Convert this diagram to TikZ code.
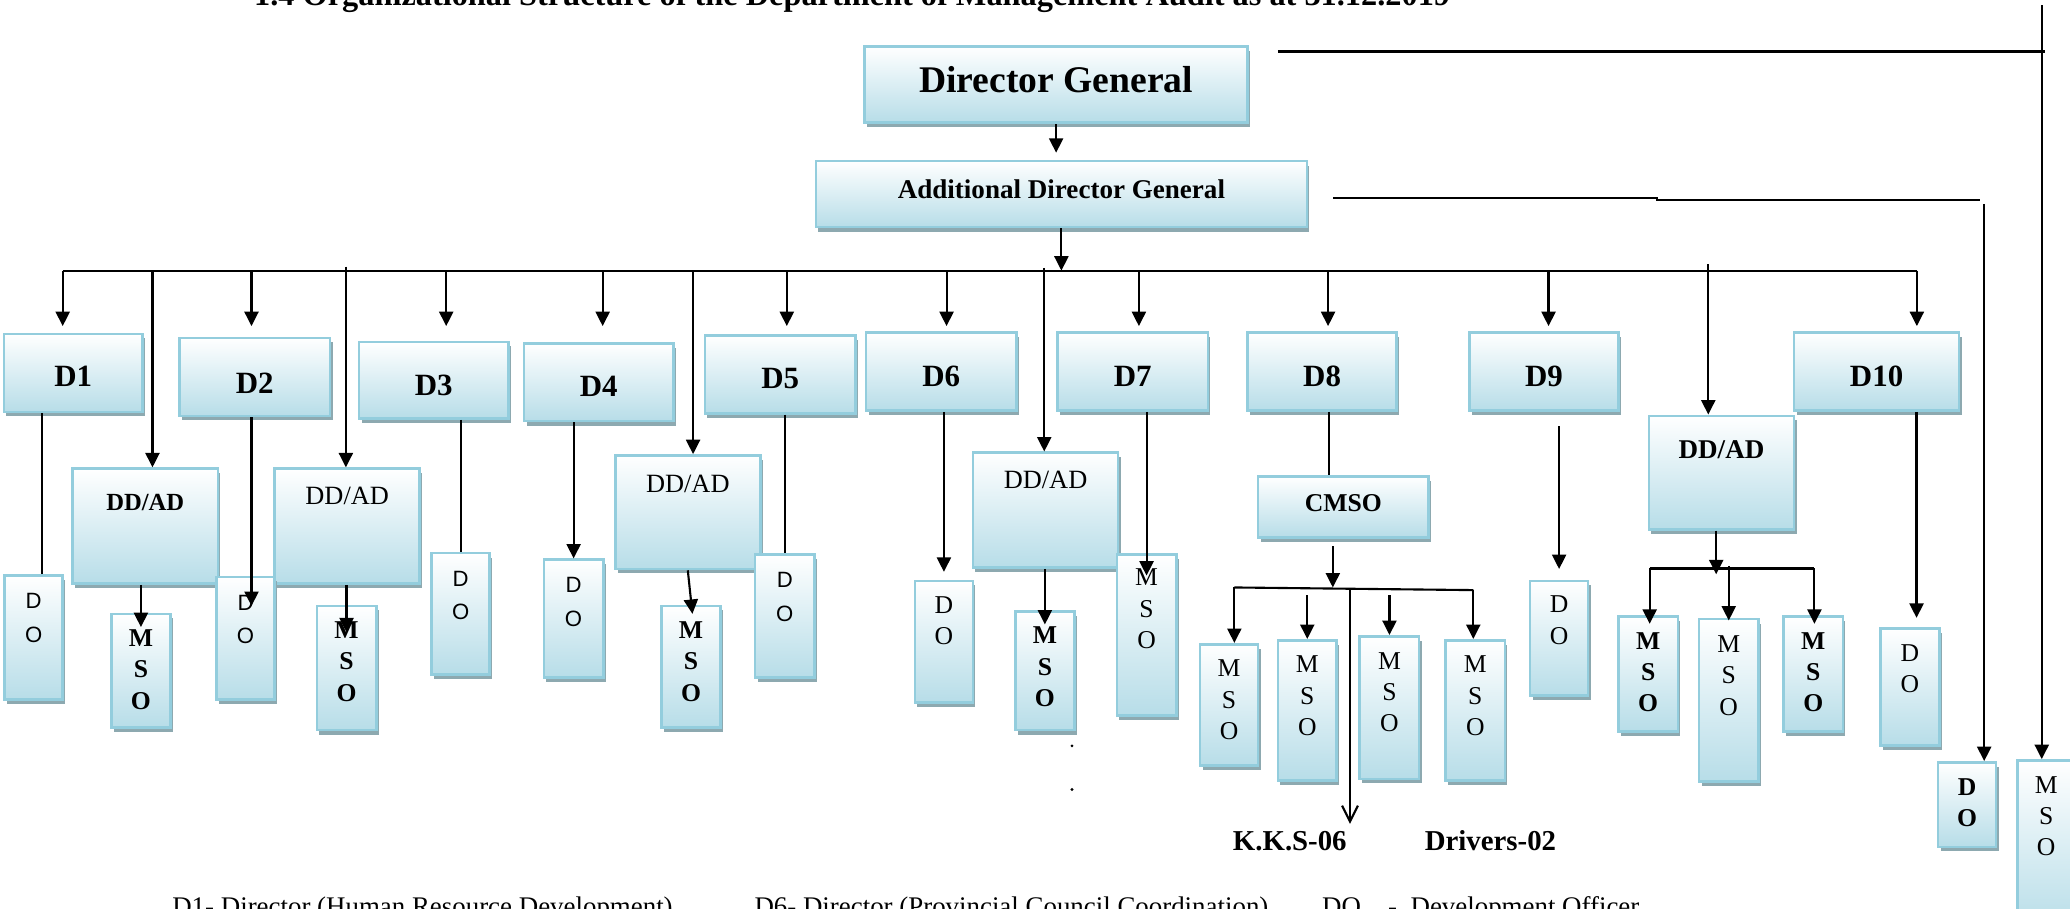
\documentclass[tikz,border=0pt]{standalone}
\usepackage{fontspec}
\setmainfont{Liberation Serif}
\setsansfont{Liberation Sans}
\usetikzlibrary{arrows.meta, calc, fit, shadows}

\definecolor{boxline}{HTML}{93CDDD}
\definecolor{boxfill}{HTML}{B7DDE8}
\definecolor{boxshade}{HTML}{8DA9B0}

\tikzset{
  box/.style={draw=boxline, line width=0.75pt, top color=white, bottom color=boxfill,
    inner sep=0pt, drop shadow={shadow xshift=0.025cm, shadow yshift=-0.045cm, fill=boxshade, opacity=1}},
  stack/.style={align=center, inner sep=0pt, anchor=north},
  ln/.style={line width=0.6pt},
  arr/.style={ln, -{Triangle[length=4.1pt, width=4pt]}},
  sb/.style={font=\fontsize{7.3}{8.9}\selectfont\bfseries},
  sr/.style={font=\fontsize{7.3}{8.9}\selectfont},
  ss/.style={font=\fontsize{6.3}{9.6}\selectfont\sffamily},
  ddb/.style={font=\fontsize{7}{8}\selectfont\bfseries},
  ddbb/.style={font=\fontsize{7.7}{8}\selectfont\bfseries},
  ddr/.style={font=\fontsize{7.5}{8}\selectfont},
  keytext/.style={anchor=base west, inner sep=0pt, font=\fontsize{7.65}{9}\selectfont},
}

\begin{document}
\begin{tikzpicture}[x=0.0132cm, y=-0.0132cm]
\useasboundingbox (0,0) rectangle (1568,688);

% Title (cut by the top edge)
\node[anchor=base west, inner sep=0pt, font=\fontsize{9.2}{11}\selectfont\bfseries] (title) at (192,3.8)
  {1.4 Organizational Structure of the Department of Management Audit as at 31.12.2019};

% Boxes with the text in the middle
\foreach \n/\xa/\ya/\xb/\yb/\t/\s/\o in {
  dg/655/35/945/93/Director General/10.7/-4,
  adg/618/122/990/172/Additional Director General/7.7/-4,
  d1/3/253/108/312/D1/8.8/2.5,
  d2/136/256/250/315/D2/8.8/4.5,
  d3/272/259/385/317/D3/8.8/4,
  d4/397/260/510/319/D4/8.8/3.5,
  d5/534/254/648/313/D5/8.8/3.5,
  d6/656/252/770/311/D6/8.8/3.5,
  d7/801/252/915/311/D7/8.8/3.5,
  d8/945/252/1058/311/D8/8.8/3.5,
  d9/1113/252/1226/311/D9/8.8/3.5,
  d10/1359/252/1484/311/D10/8.8/3.5,
  cmso/953/361/1082/407/CMSO/7.3/-3}
{
  \node[box, fit={(\xa,\ya) (\xb,\yb)}] (\n) {};
  \node[inner sep=0pt, font=\fontsize{\s}{\s}\selectfont\bfseries] (\n-t) at ($(\n.center)+(0,\o)$) {\t};
}

% Boxes with the text at the top
\foreach \n/\xa/\ya/\xb/\yb/\t/\s/\o in {
  dd1/55/355/165/442/{DD/AD}/ddb/20,
  dd2/208/355/318/442/{DD/AD}/ddr/14.5,
  dd3/466/345/576/431/{DD/AD}/ddr/15,
  dd4/737/343/847/430/{DD/AD}/ddr/14,
  dd5/1249/315/1359/401/{DD/AD}/ddbb/19,
  do1/3.5/436/47.5/530/{D\\O}/ss/14,
  mso1/84.5/465/129/551/{M\\S\\O}/sb/12.5,
  do2/164/437/208/530/{D\\O}/ss/14,
  mso2/240/459/285/553/{M\\S\\O}/sb/12.5,
  do3/327/419/371/511/{D\\O}/ss/14,
  do4/412/424/457/513/{D\\O}/ss/14,
  mso3/501/459/546/551/{M\\S\\O}/sb/12.5,
  do5/572/420/617/513/{D\\O}/ss/14,
  do6/693/440/737/532/{D\\O}/sr/12.5,
  mso4/769/463/814/553/{M\\S\\O}/sb/12.5,
  mso7/846/420/891/542/{M\\S\\O}/sr/11.5,
  c1/909/488/953/580/{M\\S\\O}/sr/12.5,
  c2/968/485/1012.5/591/{M\\S\\O}/sr/12.5,
  c3/1030/482/1075/590/{M\\S\\O}/sr/12.5,
  c4/1095/485/1140/591/{M\\S\\O}/sr/12.5,
  do9/1159/440/1203/527/{D\\O}/sr/12,
  e1/1226/467/1271/554/{M\\S\\O}/sb/12.5,
  e2/1287/469/1332/592/{M\\S\\O}/sr/13,
  e3/1351/467/1396/554/{M\\S\\O}/sb/12.5,
  do10/1424.5/476/1469/564.5/{D\\O}/sr/12.5,
  dof/1468/577.5/1512/641.5/{D\\O}/sb/12.5,
  msof/1528/576/1572/705/{M\\S\\O}/sr/12.5}
{
  \node[box, fit={(\xa,\ya) (\xb,\yb)}] (\n) {};
  \node[stack, \s] (\n-t) at ($(\n.north)+(0,\o)$) {\t};
}

% DG -> ADG -> bus
\coordinate (busL) at (47.5,205);
\coordinate (busR) at (1452,205);
\draw[arr, shorten >=2pt] (dg.south) -- (dg.south |- adg.north);
\draw[arr] (adg.south) -- (adg.south |- busL);
\draw[ln] (busL) -- (busR);

% drops to the directors
\coordinate (dtip) at (0,247);
\foreach \n/\x in {d1/47.5, d2/190.5, d3/338, d4/456.5, d5/596, d6/717, d7/862.7, d8/1006, d9/1173, d10/1452}{
  \coordinate (b-\n) at (\x,205);
  \draw[arr] (b-\n) -- (b-\n |- dtip);
}

% drops to the deputy directors
\foreach \n/\x/\y in {dd1/115.5/205, dd2/262/202, dd3/525/205, dd4/791/203, dd5/1294/200}{
  \coordinate (b-\n) at (\x,\y);
  \draw[arr] (b-\n) -- (b-\n |- \n.north);
}

% directors to officers
\coordinate (l1) at ($(do1.north)+(6,0)$);
\draw[ln] (l1 |- d1.south) -- (l1);
\coordinate (l2) at ($(do2.north)+(4.5,23)$);
\draw[arr] (l2 |- d2.south) -- (l2);
\draw[ln] (do3.north |- d3.south) -- (do3.north);
\draw[arr] (do4.north |- d4.south) -- (do4.north);
\draw[ln] (do5.north |- d5.south) -- (do5.north);
\draw[arr, shorten >=2.2pt] (do6.north |- d6.south) -- (do6.north);
\draw[arr] (mso7.north |- d7.south) -- ($(mso7.north)+(0,17)$);
\draw[arr] (mso1.north |- dd1.south) -- ($(mso1.north)+(0,11)$);
\draw[arr] (mso2.north |- dd2.south) -- ($(mso2.north)+(0,21)$);
\draw[arr] (dd3.south) -- ($(mso3.north)+(1,7)$);
\draw[arr] (mso4.north |- dd4.south) -- ($(mso4.north)+(0,11)$);

% D8 and CMSO
\coordinate (l8) at ($(cmso.north)+(-10.5,0)$);
\draw[ln] (l8 |- d8.south) -- (l8);
\coordinate (cbusL) at (935,447);
\coordinate (cbusR) at (1116,447);
\coordinate (ctip) at (1009.6,445);
\draw[arr, shorten <=2.2pt] (ctip |- cmso.south) -- (ctip);
\draw[ln] ($(cbusL)+(0,-2)$) -- (cbusR);
\draw[arr] ($(cbusL)+(0,-2)$) -- (cbusL |- c1.north);
\draw[arr, shorten <=1.5pt] (c2.north |- cbusL) -- (c2.north);
\draw[arr, shorten <=1.5pt] (c3.north |- cbusL) -- (c3.north);
\draw[arr] (cbusR) -- (cbusR |- c4.north);
\coordinate (kks) at (1022.6,624);
\draw[ln, -{Straight Barb[length=4.5pt, width=4.5pt]}] ($(kks |- cbusL)+(0,-1)$) -- (kks);
\node[font=\fontsize{8.2}{10}\selectfont\bfseries] (kkst) at (977,637) {K.K.S-06};
\node[font=\fontsize{8.2}{10}\selectfont\bfseries] (drv) at (1129,637) {Drivers-02};

% D9
\draw[arr, shorten <=4.1pt, shorten >=3pt] (do9.north |- d9.south) -- (do9.north);

% DD/AD of the last group
\coordinate (ebusL) at (1249.6,430.6);
\coordinate (ebusR) at (1374.4,430.6);
\coordinate (etip) at (1300,435);
\draw[arr] (etip |- dd5.south) -- (etip);
\draw[ln] (ebusL) -- (ebusR);
\draw[arr] (ebusL) -- ($(ebusL |- e1.north)+(0,6.5)$);
\draw[arr] ($(e2.north |- ebusL)+(0,-2)$) -- ($(e2.north)+(0,2)$);
\draw[arr] (ebusR) -- ($(ebusR |- e3.north)+(0,6.5)$);

% D10
\coordinate (l10) at ($(do10.north)+(5,-7)$);
\draw[arr] (l10 |- d10.south) -- (l10);

% lines from DG and ADG on the right
\coordinate (g1) at (968,39);
\coordinate (g2) at (1549,39);
\coordinate (g3) at (1546.6,4);
\draw[ln] (g1) -- (g2);
\draw[arr] (g3) -- (g3 |- msof.north);
\coordinate (a1) at (1010,149.7);
\coordinate (a2) at (1255,149.7);
\coordinate (a3) at (1255,151.5);
\coordinate (a4) at (1500,151.5);
\coordinate (a5) at (1503,154.5);
\draw[ln] (a1) -- (a2) -- (a3) -- (a4);
\draw[arr] (a5) -- (a5 |- dof.north);

% stray dots
\fill (812,565) circle (0.45pt);
\fill (812,598) circle (0.45pt);

% key (cut by the bottom edge)
\node[keytext] (key1) at (130,693.7) {D1- Director (Human Resource Development)};
\node[keytext] (key6) at (571,693.7) {D6- Director (Provincial Council Coordination)};
\node[keytext] (keydo) at (1001,693.7) {DO};
\node[keytext] (keydev) at (1051,693.7) {-\ \ Development Officer};
\end{tikzpicture}
\end{document}
